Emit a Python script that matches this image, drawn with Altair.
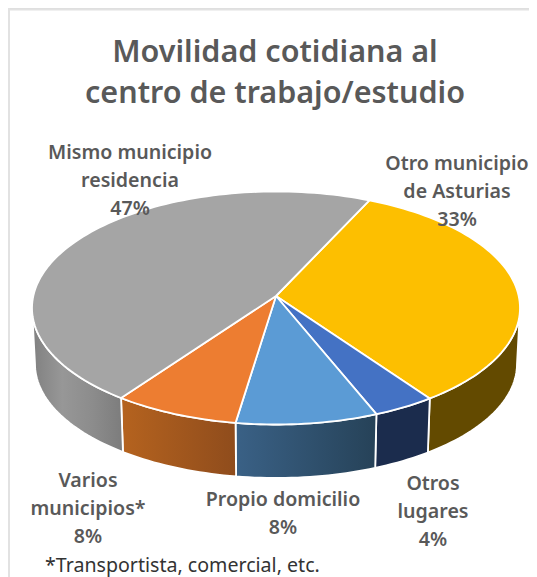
import math
import altair as alt
import pandas as pd

# ---- values ----
categories = ["Otro municipio de Asturias", "Otros lugares", "Propio domicilio",
              "Varios municipios*", "Mismo municipio residencia"]
slice_shares = [32.9, 4.1, 9.4, 8.3, 45.3]      # drawn slice sizes
printed_pct = ["33%", "4%", "8%", "8%", "47%"]  # labels as printed
label_lines = [["Otro municipio", "de Asturias"], ["Otros", "lugares"], ["Propio domicilio"],
               ["Varios", "municipios*"], ["Mismo municipio", "residencia"]]
top_colors = ["#FDBF00", "#4472C4", "#5B9BD5", "#ED7D31", "#A5A5A5"]
wall_stops = [["#634A00", "#634A00"], ["#1B2C4D", "#1B2C4D"], ["#3A6186", "#264258"],
              ["#B5631F", "#8F4C1C"], ["#808080", "#979797", "#8C8C8C", "#7C7C7C"]]

# ---- layout ----
W, H = 521, 569
OX, OY = 8, 8
CX, CY, RX, RY = 276, 308, 244, 116.5
APEX = (276, 296)
BX, BY, BRX, BRY = 276, 364, 241, 114
START = 22.5
FONT = "Noto Sans"
label_pos = [(457, 164), (433, 484), (283, 500), (88, 481), (130, 153)]
LINE = 27.8

xs = alt.Scale(domain=[OX, OX + W], range=[0, W], nice=False, zero=False)
ys = alt.Scale(domain=[OY + H, OY], range=[H, 0], nice=False, zero=False)

def arc_pts(cx, cy, rx, ry, a0, a1):
    n = max(2, int(abs(a1 - a0) / 1.5) + 1)
    pts = []
    for k in range(n + 1):
        a = math.radians(a0 + (a1 - a0) * k / n)
        pts.append((cx + rx * math.sin(a), cy - ry * math.cos(a)))
    return pts

def poly_chart(pts, fill):
    pts = pts + [pts[0]]
    df = pd.DataFrame({"x": [p[0] for p in pts], "y": [p[1] for p in pts], "i": range(len(pts))})
    return alt.Chart(df).mark_line(filled=True, fill=fill, stroke="white", strokeWidth=1.8,
                                   strokeJoin="round", interpolate="linear", clip=False).encode(
        x=alt.X("x:Q", scale=xs, axis=None),
        y=alt.Y("y:Q", scale=ys, axis=None),
        order="i:Q",
    )

def grad(stops):
    n = len(stops) - 1
    return alt.Gradient(gradient="linear", x1=0, y1=0, x2=1, y2=0,
                        stops=[alt.GradientStop(offset=i / n, color=c) for i, c in enumerate(stops)])

layers = []
angle = START
bounds = []
for s in slice_shares:
    bounds.append((angle, angle + s * 3.6))
    angle += s * 3.6

# walls
for (a0, a1), st in zip(bounds, wall_stops):
    v0, v1 = max(a0, 90), min(a1, 270)
    if v1 <= v0:
        continue
    pts = arc_pts(CX, CY, RX, RY, v0, v1) + arc_pts(BX, BY, BRX, BRY, v1, v0)
    layers.append(poly_chart(pts, grad(st)))
# tops
for (a0, a1), c in zip(bounds, top_colors):
    layers.append(poly_chart([APEX] + arc_pts(CX, CY, RX, RY, a0, a1), c))

# frame
layers.append(alt.Chart(pd.DataFrame({"a": [0]})).mark_rule(color="#E2E2E2", strokeWidth=2).encode(
    x=alt.value(1), y=alt.value(0), y2=alt.value(H)))
layers.append(alt.Chart(pd.DataFrame({"a": [0]})).mark_rule(color="#E2E2E2", strokeWidth=2).encode(
    x=alt.value(0), x2=alt.value(W), y=alt.value(1.5)))

def text_chart(text, px, py, size, color, weight, align="center"):
    return alt.Chart(pd.DataFrame({"t": [text]})).mark_text(
        font=FONT, fontSize=size, color=color, fontWeight=weight, align=align,
        baseline="middle", clip=False).encode(
        text="t:N", x=alt.value(px - OX), y=alt.value(py - OY))

# slice labels
for lines, pct, (px, py) in zip(label_lines, printed_pct, label_pos):
    for j, t in enumerate(lines + [pct]):
        layers.append(text_chart(t, px, py + j * LINE, 19.6, "#595959", 600))

# title and note
layers.append(text_chart("Movilidad cotidiana al", 275, 53, 30.5, "#595959", 600))
layers.append(text_chart("centro de trabajo/estudio", 275, 94, 30.5, "#595959", 600))
layers.append(text_chart("*Transportista, comercial, etc.", 45, 566, 19.6, "#333333", 400, "left"))

chart = alt.layer(*layers).properties(
    width=W, height=H, padding=0, autosize=alt.AutoSizeParams(type="none")
).configure_view(stroke=None).configure(background="white")

chart.save("out.html", embed_options={"renderer": "svg", "actions": False})
